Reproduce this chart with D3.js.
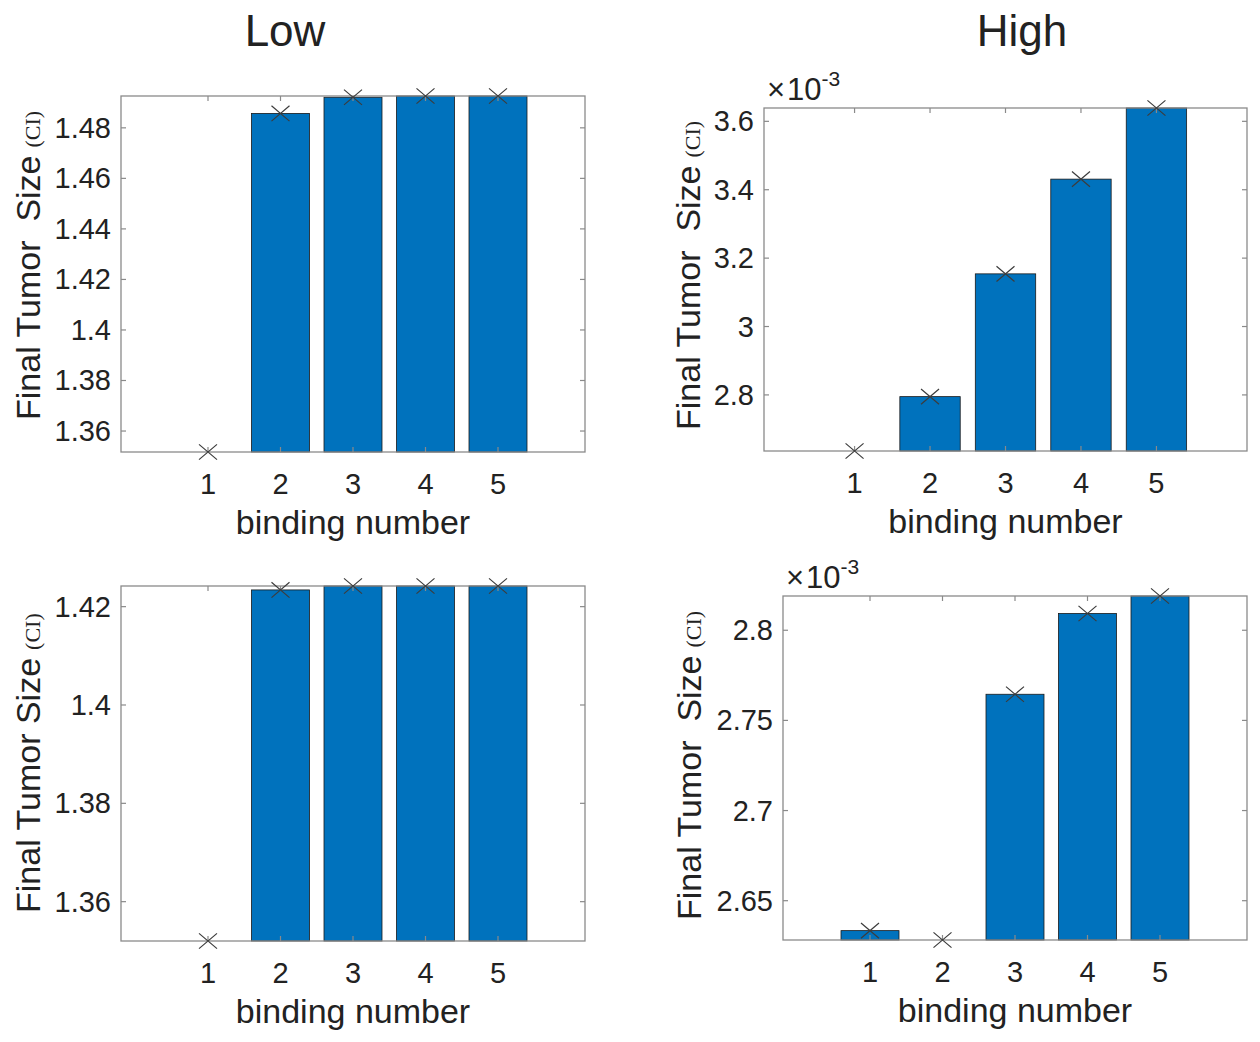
<!DOCTYPE html>
<html>
<head>
<meta charset="utf-8">
<script src="https://cdn.jsdelivr.net/npm/d3@7"></script>
<style>
  html, body { margin: 0; padding: 0; background: #fff; }
  svg { display: block; }
  text { font-family: "Liberation Sans", Arial, Helvetica, sans-serif; fill: #222; }
</style>
</head>
<body>
<svg id="chart" width="1260" height="1042"></svg>
<script>
// ---------------- data ----------------
const categories = [1, 2, 3, 4, 5];
const xTickLabels = ["1", "2", "3", "4", "5"];

const lowTopValues = [1.3517, 1.4857, 1.4921, 1.4926, 1.4926];
const highTopValues = [2.636, 2.795, 3.154, 3.431, 3.639];      // x 10^-3
const lowBottomValues = [1.3520, 1.4234, 1.4242, 1.4242, 1.4242];
const highBottomValues = [2.6334, 2.6282, 2.7645, 2.8093, 2.8190]; // x 10^-3

const lowTopTicks = [1.36, 1.38, 1.40, 1.42, 1.44, 1.46, 1.48];
const lowTopTickLabels = ["1.36", "1.38", "1.4", "1.42", "1.44", "1.46", "1.48"];
const highTopTicks = [2.8, 3.0, 3.2, 3.4, 3.6];
const highTopTickLabels = ["2.8", "3", "3.2", "3.4", "3.6"];
const lowBottomTicks = [1.36, 1.38, 1.40, 1.42];
const lowBottomTickLabels = ["1.36", "1.38", "1.4", "1.42"];
const highBottomTicks = [2.65, 2.70, 2.75, 2.80];
const highBottomTickLabels = ["2.65", "2.7", "2.75", "2.8"];

const columnTitles = ["Low", "High"];
const xLabel = "binding number";
// ---------------------------------------

const svg = d3.select("#chart");
const barColor = "#0072BD";
const axisColor = "#8a8a8a";

const panels = [
  { values: lowTopValues, ticks: lowTopTicks, tickLabels: lowTopTickLabels,
    x0: 121, x1: 585, y0: 96, y1: 452, yLabel: "Final Tumor\u00a0 Size", yLabelX: 40, yLabelY: 420, exp: false },
  { values: highTopValues, ticks: highTopTicks, tickLabels: highTopTickLabels,
    x0: 764, x1: 1247, y0: 108, y1: 451, yLabel: "Final Tumor\u00a0 Size", yLabelX: 700, yLabelY: 430, exp: true },
  { values: lowBottomValues, ticks: lowBottomTicks, tickLabels: lowBottomTickLabels,
    x0: 121, x1: 585, y0: 586, y1: 941, yLabel: "Final Tumor Size", yLabelX: 40, yLabelY: 913, exp: false },
  { values: highBottomValues, ticks: highBottomTicks, tickLabels: highBottomTickLabels,
    x0: 783, x1: 1247, y0: 596, y1: 940, yLabel: "Final Tumor\u00a0 Size", yLabelX: 701, yLabelY: 920, exp: true }
];

panels.forEach(p => {
  const g = svg.append("g");
  const x = d3.scaleLinear().domain([-0.2, 6.2]).range([p.x0, p.x1]);
  const y = d3.scaleLinear().domain(d3.extent(p.values)).range([p.y1, p.y0]);
  const tickLen = 5;

  // bars
  g.selectAll("rect.bar").data(categories).join("rect")
    .attr("class", "bar")
    .attr("x", d => x(d - 0.4))
    .attr("width", d => x(d + 0.4) - x(d - 0.4))
    .attr("y", (d, i) => y(p.values[i]))
    .attr("height", (d, i) => Math.max(0, p.y1 - y(p.values[i])))
    .attr("fill", barColor)
    .attr("stroke", "#1a1a1a")
    .attr("stroke-width", 0.8);

  // box
  g.append("rect")
    .attr("x", p.x0).attr("y", p.y0)
    .attr("width", p.x1 - p.x0).attr("height", p.y1 - p.y0)
    .attr("fill", "none").attr("stroke", axisColor).attr("stroke-width", 1.3);

  // x ticks (bottom & top, inward)
  categories.forEach(c => {
    g.append("line").attr("x1", x(c)).attr("x2", x(c)).attr("y1", p.y1).attr("y2", p.y1 - tickLen)
      .attr("stroke", axisColor).attr("stroke-width", 1.2);
    g.append("line").attr("x1", x(c)).attr("x2", x(c)).attr("y1", p.y0).attr("y2", p.y0 + tickLen)
      .attr("stroke", axisColor).attr("stroke-width", 1.2);
  });
  g.selectAll("text.xt").data(categories).join("text")
    .attr("class", "xt")
    .attr("x", d => x(d)).attr("y", p.y1 + 42)
    .attr("text-anchor", "middle")
    .attr("font-size", 29)
    .text((d, i) => xTickLabels[i]);

  // y ticks (left & right, inward)
  p.ticks.forEach((t, i) => {
    g.append("line").attr("x1", p.x0).attr("x2", p.x0 + tickLen).attr("y1", y(t)).attr("y2", y(t))
      .attr("stroke", axisColor).attr("stroke-width", 1.2);
    g.append("line").attr("x1", p.x1).attr("x2", p.x1 - tickLen).attr("y1", y(t)).attr("y2", y(t))
      .attr("stroke", axisColor).attr("stroke-width", 1.2);
    g.append("text")
      .attr("x", p.x0 - 10).attr("y", y(t) + 10)
      .attr("text-anchor", "end")
      .attr("font-size", 29)
      .text(p.tickLabels[i]);
  });

  // x markers
  const m = 9;
  categories.forEach((c, i) => {
    const cx = x(c), cy = y(p.values[i]);
    g.append("path")
      .attr("d", `M${cx - m},${cy - m * 0.85}L${cx + m},${cy + m * 0.85}M${cx - m},${cy + m * 0.85}L${cx + m},${cy - m * 0.85}`)
      .attr("stroke", "#3c3c3c").attr("stroke-width", 1.2).attr("fill", "none");
  });

  // x label
  g.append("text")
    .attr("x", (x(1) + x(5)) / 2).attr("y", p.y1 + 82)
    .attr("text-anchor", "middle")
    .attr("font-size", 34)
    .text(xLabel);

  // y label
  const yl = g.append("text")
    .attr("transform", `translate(${p.yLabelX},${p.yLabelY}) rotate(-90)`)
    .attr("text-anchor", "start")
    .attr("font-size", 34)
    .style("white-space", "pre");
  yl.append("tspan").text(p.yLabel);
  yl.append("tspan")
    .attr("font-family", "'Liberation Serif', 'DejaVu Serif', serif")
    .attr("font-size", 22)
    .attr("dx", 8)
    .text("(CI)");

  // exponent label
  if (p.exp) {
    const et = g.append("text")
      .attr("x", p.x0 + 3).attr("y", p.y0 - 8)
      .attr("font-size", 31);
    et.append("tspan").attr("font-weight", 300).text("\u00d7");
    et.append("tspan").attr("dx", 2).text("10");
    et.append("tspan").attr("font-size", 21).attr("dy", -14).text("-3");
  }
});

// column titles
svg.append("text").attr("x", 285).attr("y", 46).attr("text-anchor", "middle")
  .attr("font-size", 44).text(columnTitles[0]);
svg.append("text").attr("x", 1022).attr("y", 46).attr("text-anchor", "middle")
  .attr("font-size", 44).text(columnTitles[1]);
</script>
</body>
</html>
